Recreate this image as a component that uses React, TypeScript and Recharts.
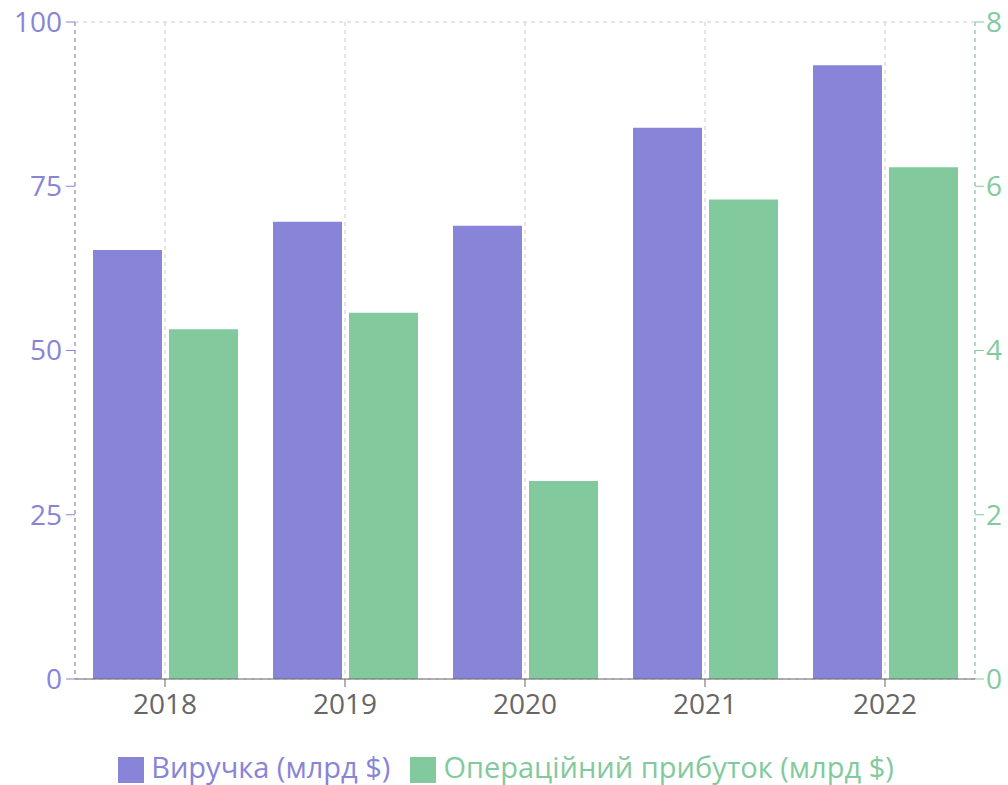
import React from 'react';
import { BarChart, Bar, XAxis, YAxis, CartesianGrid, Legend } from 'recharts';

const years = ['2018', '2019', '2020', '2021', '2022'];
const revenue = [65.3, 69.6, 69.0, 83.9, 93.4];
const operatingProfit = [4.26, 4.46, 2.41, 5.84, 6.23];
const leftTicks = [0, 25, 50, 75, 100];
const rightTicks = [0, 2, 4, 6, 8];

const data = years.map((y, i) => ({ year: y, revenue: revenue[i], profit: operatingProfit[i] }));

const FONT = '"Open Sans", "Noto Sans", sans-serif';

export default function App() {
  return (
    <div style={{ fontFamily: FONT, position: 'absolute', left: 0, top: 0 }}>
      <BarChart
        width={1008}
        height={785}
        data={data}
        margin={{ top: 22, right: 0, bottom: 0, left: 0 }}
        barCategoryGap="10%"
        barGap={7}
      >
        <CartesianGrid strokeDasharray="4 4" stroke="#ccc" />
        <XAxis
          dataKey="year"
          tick={{ fill: '#666', fontSize: 28, fontFamily: FONT }}
          stroke="#666"
          height={70}
          tickSize={8}
          tickMargin={7}
        />
        <YAxis
          yAxisId="left"
          domain={[0, 100]}
          ticks={leftTicks}
          stroke="#8884d8"
          tick={{ fill: '#8884d8', fontSize: 28, fontFamily: FONT }}
          width={75}
          tickSize={9}
          tickMargin={4}
          axisLine={{ stroke: '#8884d8', strokeDasharray: '4 4' }}
        />
        <YAxis
          yAxisId="right"
          orientation="right"
          domain={[0, 8]}
          ticks={rightTicks}
          stroke="#82ca9d"
          tick={{ fill: '#82ca9d', fontSize: 28, fontFamily: FONT }}
          width={33}
          tickSize={9}
          tickMargin={2}
          axisLine={{ stroke: '#82ca9d', strokeDasharray: '4 4' }}
        />
        <Legend
          iconType="square"
          iconSize={26}
          wrapperStyle={{ fontSize: 29, fontFamily: FONT, lineHeight: '36px', paddingLeft: 12 }}
          formatter={(value: string) => (
            <span style={{ marginLeft: 3, marginRight: 10 }}>{value}</span>
          )}
        />
        <Bar yAxisId="left" dataKey="revenue" name="Виручка (млрд $)" fill="#8884d8" isAnimationActive={false} />
        <Bar yAxisId="right" dataKey="profit" name="Операційний прибуток (млрд $)" fill="#82ca9d" isAnimationActive={false} />
      </BarChart>
    </div>
  );
}
